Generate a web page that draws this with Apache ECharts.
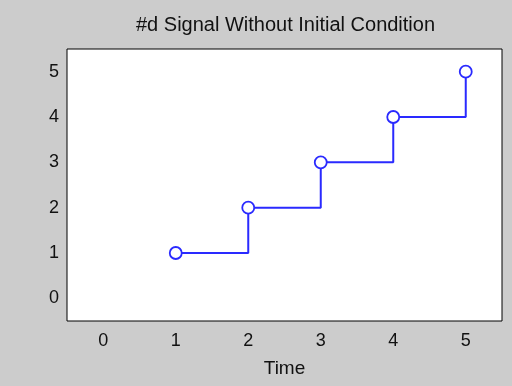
<!DOCTYPE html>
<html><head><meta charset="utf-8">
<script src="https://cdn.jsdelivr.net/npm/echarts@6/dist/echarts.min.js"></script>
<style>html,body{margin:0;padding:0;background:#cccccc;}#c{width:512px;height:386px;}</style>
</head><body><div id="c"></div>
<script>
var titleText = "#d Signal Without Initial Condition";
var xLabel = "Time";
var timeValues = [1, 2, 3, 4, 5];
var signalValues = [1, 2, 3, 4, 5];
var xTicks = [0, 1, 2, 3, 4, 5];
var yTicks = [0, 1, 2, 3, 4, 5];

var chart = echarts.init(document.getElementById('c'), null, {renderer: 'canvas'});
var font = 'Liberation Sans, Arial, sans-serif';
function fmt(ticks){
  return function(v){ var r = Math.round(v*100)/100; return ticks.indexOf(r) >= 0 ? String(r) : ''; };
}
chart.setOption({
  backgroundColor: '#cccccc',
  animation: false,
  title: {
    text: titleText, left: 131, top: 10,
    textStyle: {fontFamily: font, fontSize: 20, fontWeight: 'normal', color: '#111'}
  },
  grid: {left: 67, right: 10, top: 49, bottom: 65, show: true, backgroundColor: '#ffffff', borderColor: '#000', borderWidth: 1},
  xAxis: {
    type: 'value', min: -0.5, max: 5.5, interval: 0.5,
    name: xLabel, nameLocation: 'middle', nameGap: 38,
    nameTextStyle: {fontFamily: font, fontSize: 19, color: '#111'},
    axisLine: {show: false}, axisTick: {show: false}, splitLine: {show: false},
    axisLabel: {fontFamily: font, fontSize: 18, color: '#111', margin: 11, formatter: fmt(xTicks)}
  },
  yAxis: {
    type: 'value', min: -0.5, max: 5.5, interval: 0.5,
    axisLine: {show: false}, axisTick: {show: false}, splitLine: {show: false},
    axisLabel: {fontFamily: font, fontSize: 18, color: '#111', margin: 8, formatter: fmt(yTicks)}
  },
  series: [{
    type: 'line', step: 'end',
    data: timeValues.map(function(t, i){ return [t, signalValues[i]]; }),
    symbol: 'circle', symbolSize: 12, showAllSymbol: true,
    lineStyle: {color: '#2a2aff', width: 2},
    itemStyle: {color: '#ffffff', borderColor: '#2a2aff', borderWidth: 1.8},
    z: 3
  }]
});
</script></body></html>
